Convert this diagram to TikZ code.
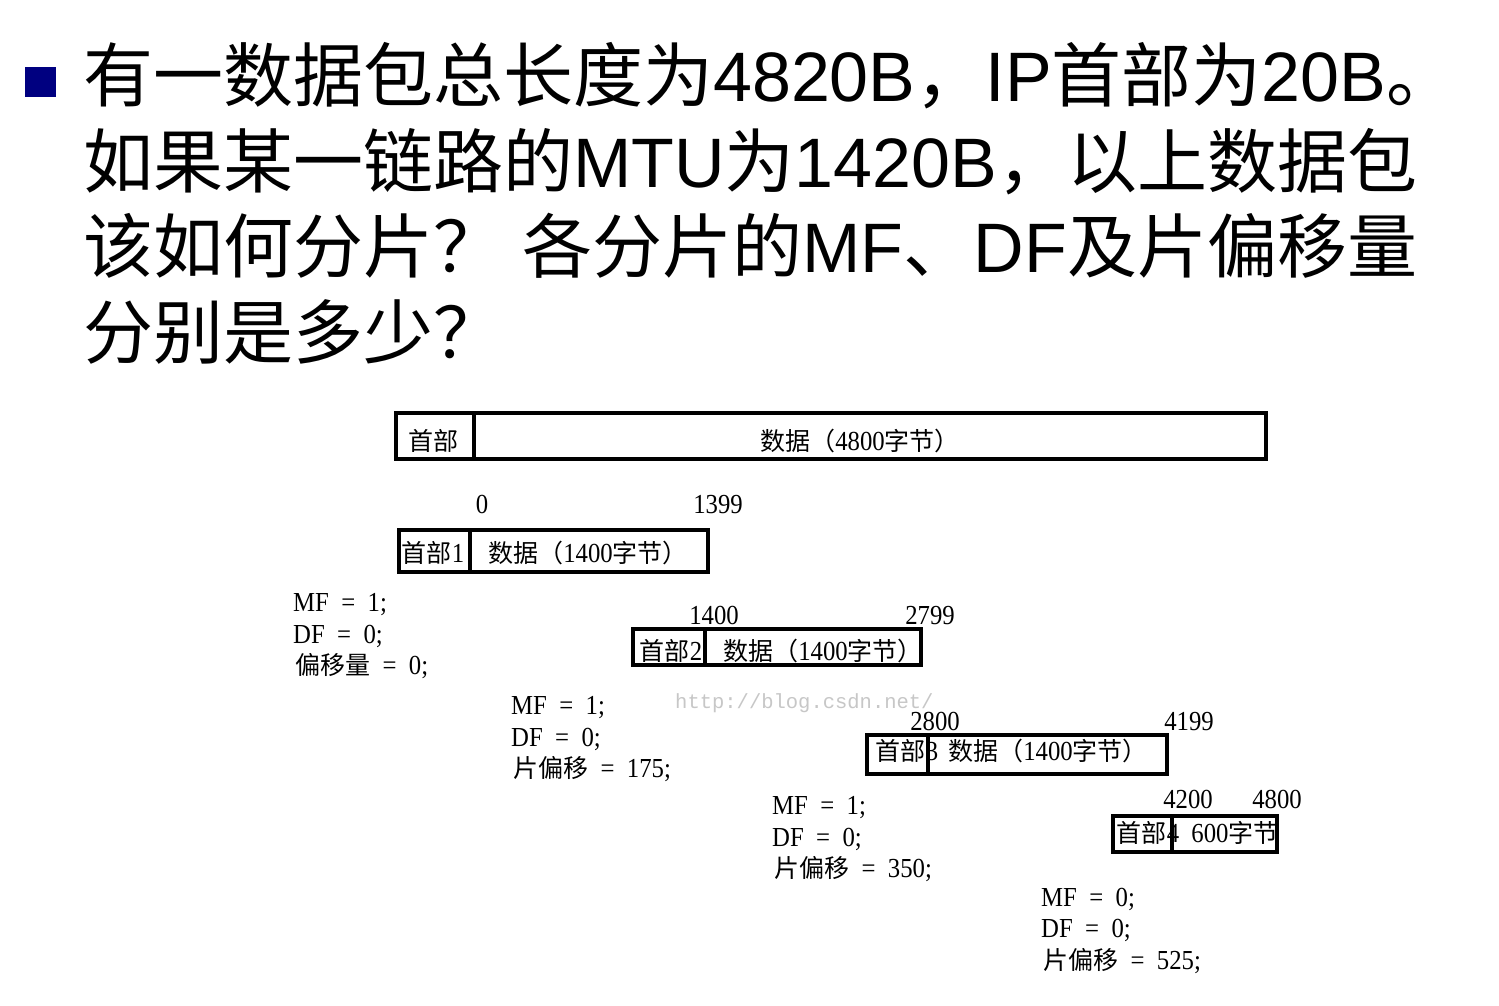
\documentclass[tikz,border=0pt]{standalone}
\usepackage{fontspec}
\setmainfont{Liberation Sans}
\newfontfamily\cjk{Noto Sans CJK SC}
\newfontfamily\dnum[Scale=1.1,FakeStretch=0.9,WordSpace=2]{Liberation Serif}
\newfontfamily\wmfont{Liberation Mono}
\newcommand{\zh}[1]{{\cjk #1}}
\newcommand{\diagfont}{\fontsize{25bp}{29bp}\selectfont\dnum}
\definecolor{bulletblue}{RGB}{0,0,128}

\tikzset{
  titleline/.style={anchor=base west, inner sep=0pt, font=\fontsize{70bp}{84bp}\selectfont},
  cell/.style={draw, line width=3.5bp, inner sep=0pt, outer sep=0pt, anchor=north west},
  boxtext/.style={inner sep=0pt, font=\diagfont, text height=20bp, text depth=3bp},
  offnum/.style={boxtext},
  flagline/.style={boxtext, anchor=west},
  watermark/.style={anchor=west, inner sep=0pt, text=black!22, font=\fontsize{20.5bp}{24bp}\selectfont\wmfont}
}

\begin{document}
\begin{tikzpicture}[x=1bp, y=-1bp]
  % page
  \fill[white] (0,0) rectangle (1499,1005);

  % question text
  \node[fill=bulletblue, minimum width=31bp, minimum height=30bp, inner sep=0pt, anchor=north west] (bullet) at (25,67) {};
  \node[titleline] (q1) at (83,101) {\zh{有一数据包总长度为}4820B\zh{，}IP\zh{首部为}20B\zh{。}};
  \node[titleline] (q2) at (83,187) {\zh{如果某一链路的}MTU\zh{为}1420B\zh{，}\zh{以上数据包}};
  \node[titleline] (q3) at (83,272) {\zh{该如何分片？} \zh{各分片的}MF\zh{、}DF\zh{及片偏移量}};
  \node[titleline] (q4) at (83,358) {\zh{分别是多少？}};

  % original datagram
  \node[cell, minimum width=78bp, minimum height=46bp] (h0) at (396,413) {};
  \node[cell, minimum width=792bp, minimum height=46bp] (d0) at (h0.north east) {};
  \node[boxtext] (h0t) at (433,442) {\zh{首部}};
  \node[boxtext] (d0t) at (860,442) {\zh{数据（}4800\zh{字节）}};

  % fragment 1
  \node[offnum] (a0) at (482,505) {0};
  \node[offnum] (a1) at (718,505) {1399};
  \node[cell, minimum width=71bp, minimum height=42bp] (h1) at (399,530) {};
  \node[cell, minimum width=238bp, minimum height=42bp] (d1) at (h1.north east) {};
  \node[boxtext] (h1t) at (433,554) {\zh{首部}1};
  \node[boxtext] (d1t) at (588,554) {\zh{数据（}1400\zh{字节）}};
  \node[flagline] (mf1) at (293,603) {MF = 1;};
  \node[flagline] (df1) at (293,635) {DF = 0;};
  \node[flagline] (of1) at (295,666) {\zh{偏移量} = 0;};

  % fragment 2
  \node[offnum] (b0) at (714,616) {1400};
  \node[offnum] (b1) at (930,616) {2799};
  \node[cell, minimum width=72bp, minimum height=36bp] (h2) at (633,629) {};
  \node[cell, minimum width=216bp, minimum height=36bp] (d2) at (h2.north east) {};
  \node[boxtext] (h2t) at (671,652) {\zh{首部}2};
  \node[boxtext] (d2t) at (823,652) {\zh{数据（}1400\zh{字节）}};
  \node[watermark] (wm) at (675,703) {http://blog.csdn.net/};
  \node[flagline] (mf2) at (511,706) {MF = 1;};
  \node[flagline] (df2) at (511,738) {DF = 0;};
  \node[flagline] (of2) at (513,769) {\zh{片偏移} = 175;};

  % fragment 3
  \node[offnum] (c0) at (935,722) {2800};
  \node[offnum] (c1) at (1189,722) {4199};
  \node[cell, minimum width=61bp, minimum height=39bp] (h3) at (867,735) {};
  \node[cell, minimum width=239bp, minimum height=39bp] (d3) at (h3.north east) {};
  \node[boxtext] (h3t) at (907,752) {\zh{首部}3};
  \node[boxtext] (d3t) at (1048,752) {\zh{数据（}1400\zh{字节）}};
  \node[flagline] (mf3) at (772,806) {MF = 1;};
  \node[flagline] (df3) at (772,838) {DF = 0;};
  \node[flagline] (of3) at (774,869) {\zh{片偏移} = 350;};

  % fragment 4
  \node[offnum] (e0) at (1188,800) {4200};
  \node[offnum] (e1) at (1277,800) {4800};
  \node[cell, minimum width=59bp, minimum height=36bp] (h4) at (1113,816) {};
  \node[cell, minimum width=105bp, minimum height=36bp] (d4) at (h4.north east) {};
  \node[boxtext] (h4t) at (1148,834) {\zh{首部}4};
  \node[boxtext] (d4t) at (1235,834) {600\zh{字节}};
  \node[flagline] (mf4) at (1041,898) {MF = 0;};
  \node[flagline] (df4) at (1041,929) {DF = 0;};
  \node[flagline] (of4) at (1043,961) {\zh{片偏移} = 525;};
\end{tikzpicture}
\end{document}
